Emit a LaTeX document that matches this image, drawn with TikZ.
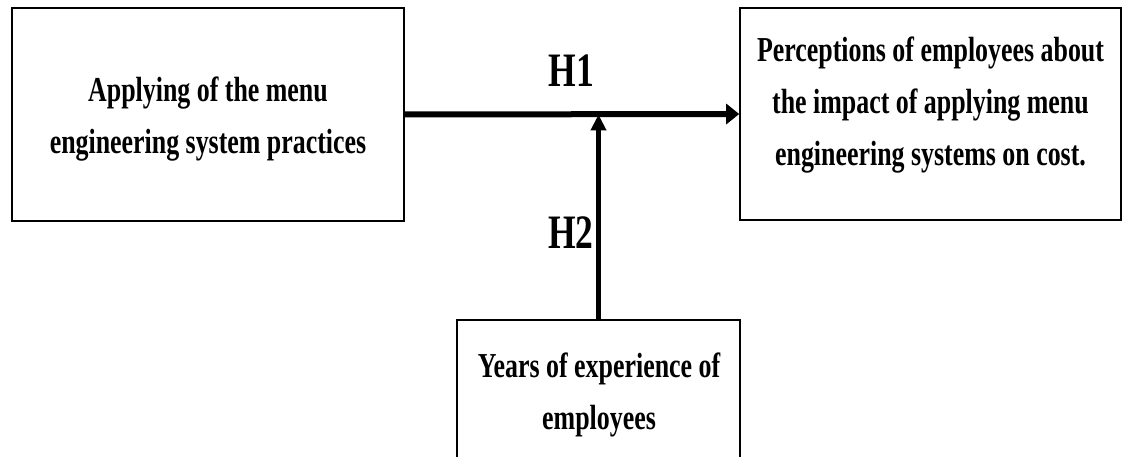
\documentclass[tikz,border=0pt]{standalone}
\usepackage{fontspec}
\setmainfont{Liberation Serif}[FakeStretch=0.74]
\usepackage{tikz}
\usetikzlibrary{arrows.meta}
\usetikzlibrary{positioning}

\begin{document}
\begin{tikzpicture}[x=1pt,y=-1pt,
  box/.style={draw,black,line width=1.6pt,inner sep=0},
  txt/.style={align=center,inner sep=0,font=\bfseries\fontsize{35}{52}\selectfont},
  hyp/.style={inner sep=0,font=\bfseries\fontsize{48}{48}\selectfont}]
\useasboundingbox (0,0) rectangle (1123,457);
\clip (0,0) rectangle (1123,457);
% boxes
\node[box,minimum width=392pt,minimum height=213pt] (apply) at (208,114.5) {};
\node[box,minimum width=381pt,minimum height=212pt] (percep) at (930.5,114) {};
\node[box,minimum width=283pt,minimum height=150pt] (years) at (598.5,395) {};
\node[txt] (applytxt) at (208,119.5) {Applying of the menu\\engineering system practices};
\node[txt] (perceptxt) at (930.5,104.8) {Perceptions of employees about\\the impact of applying menu\\engineering systems on cost.};
\node[txt] (yearstxt) at (599,394.8) {Years of experience of\\employees};
% arrows
\coordinate (meet) at (years.north |- apply.east);
\draw[black,line width=6pt,-{Triangle[length=13pt,width=20pt]}] (apply.east)--(percep.west);
\draw[black,line width=4.5pt,-{Triangle[length=16pt,width=15pt]}] (years.north)--(meet);
\node[hyp] (h1) at (571.5,71) {H1};
\node[hyp] (h2) at (571,232.5) {H2};
\end{tikzpicture}
\end{document}
